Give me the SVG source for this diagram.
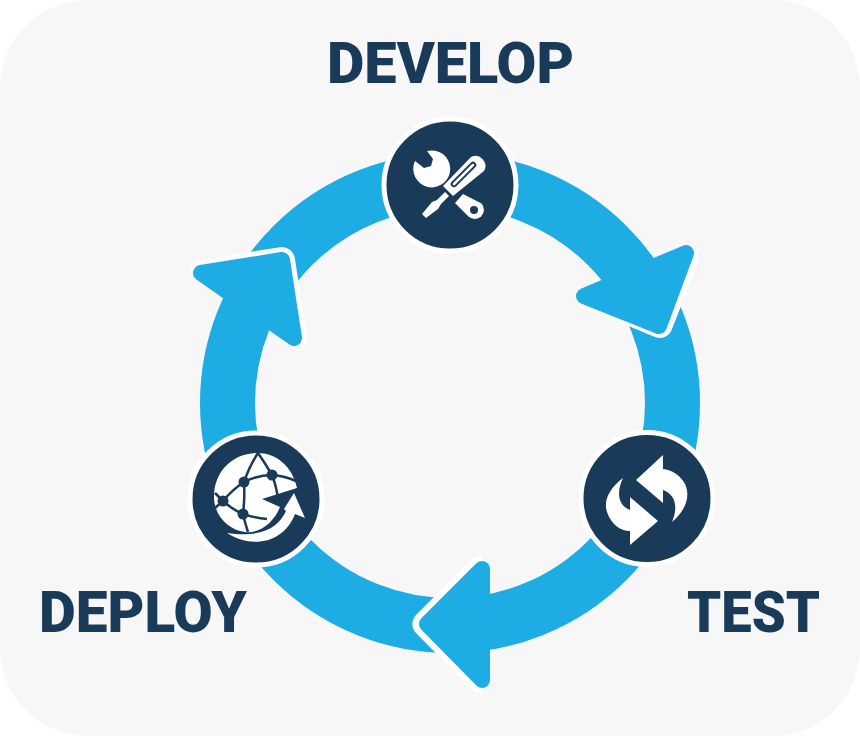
<svg xmlns="http://www.w3.org/2000/svg" width="860" height="736" viewBox="0 0 860 736">
<style>
.lbl{font-family:"Roboto","Liberation Sans",sans-serif;font-weight:900;font-size:58px;fill:#193a58}
.node{fill:#193a58;stroke:#fff;stroke-width:5}
.head{fill:#1eace4;stroke:#1eace4;stroke-width:16;stroke-linejoin:round}
.w{fill:#fff}
.dk{fill:#193a58}
.d{fill:none;stroke:#193a58}
</style>
<rect width="860" height="736" rx="88" fill="#f7f7f7"/>
<g id="connectors">
<circle cx="450" cy="403" r="222.5" fill="none" stroke="#1eace4" stroke-width="55"/>
<path class="w" d="M578,305 L575,292 L686,246 A13 13 0 0 1 698,263 L672,329 A13 13 0 0 1 655,337 Z"/>
<polygon class="head" points="686,253 584,296 659,326"/>
<path class="w" d="M482,555 L472,559 L417,614 A13 13 0 0 0 417,634 L472,690 L482,694 Z"/>
<polygon class="head" points="482,569 427,624 482,680"/>
<path class="w" d="M190,271 A13 13 0 0 1 199,260.2 L280,247.2 A13 13 0 0 1 294.8,258 L306.8,336 A13 13 0 0 1 303,347 Z"/>
<polygon class="head" points="201,273 282,260 294,338"/>
</g>
<g id="develop">
<circle class="node" cx="450" cy="185" r="66"/>
<path class="w" d="M415,161 L424,168 L431,166 L433,159 L427,151 A18.5 18.5 0 1 1 415,161 Z"/>
<path class="w" d="M422,214 L426,218 L438,209 L441,204 L449,196 L445,192 L437,200 L432,202 Z"/>
<path class="w" d="M443,186 L471,157 A10 10 0 0 1 484,171 L453,196 Z"/>
<path class="d" stroke-width="6.5" stroke-linecap="round" d="M454,184 L473,165"/>
<path fill="none" stroke="#fff" stroke-width="2.5" stroke-linecap="round" d="M454,184 L473,165"/>
<path class="w" d="M455,203 L463,194 L481.5,203.5 A9.2 9.2 0 0 1 468.5,216.5 Z"/>
<circle class="dk" cx="474" cy="210" r="4"/>
</g>
<g id="test">
<circle class="node" cx="647" cy="498.5" r="66"/>
<path class="w" d="M663,455 L636,480 L663,503 L663,490 C672,493 680,503 672,522 C685,511 691,497 685,484 C680,475 672,470 663,469 Z"/>
<path class="w" d="M630,545 L658,521 L630,497 L630,510 C620,506 615,495 623,478 C610,488 603,500 607,512 C611,524 620,531 630,531 Z"/>
</g>
<g id="deploy">
<circle class="node" cx="256" cy="499" r="66"/>
<path class="w" d="M297,488 C292,465 275,453 258,453 C232,453 214,472 214,497 C214,515 228,530 245,532 C260,534 274,522 280,507 L262,499 Z"/>
<path class="w" d="M227,533 C250,548 283,545 295,514 L305,518 L294,493 L284,509 L286,511 C279,527 262,538 227,533 Z"/>
<path class="d" stroke-width="2.5" d="M223,501 Q232,490 244,482 Q258,475 272,475 Q285,476 296,481 M272,475 Q277,488 278,500 M244,482 Q245,498 243,514 Q255,518 267,519 M223,501 Q233,510 243,514 Q245,523 248,532 M244,482 Q250,465 258,453 Q265,463 272,475 M223,501 L215,493 M223,501 L215,508"/>
<circle class="dk" cx="223" cy="501" r="5.5"/><circle class="dk" cx="244" cy="482" r="5.5"/><circle class="dk" cx="272" cy="475" r="5.5"/><circle class="dk" cx="243" cy="514" r="5.5"/>
</g>
<g id="labels">
<text class="lbl" x="327" y="83" textLength="247" lengthAdjust="spacingAndGlyphs">DEVELOP</text>
<text class="lbl" x="39" y="632" textLength="208" lengthAdjust="spacingAndGlyphs">DEPLOY</text>
<text class="lbl" x="687" y="632" textLength="133" lengthAdjust="spacingAndGlyphs">TEST</text>
</g>
</svg>
